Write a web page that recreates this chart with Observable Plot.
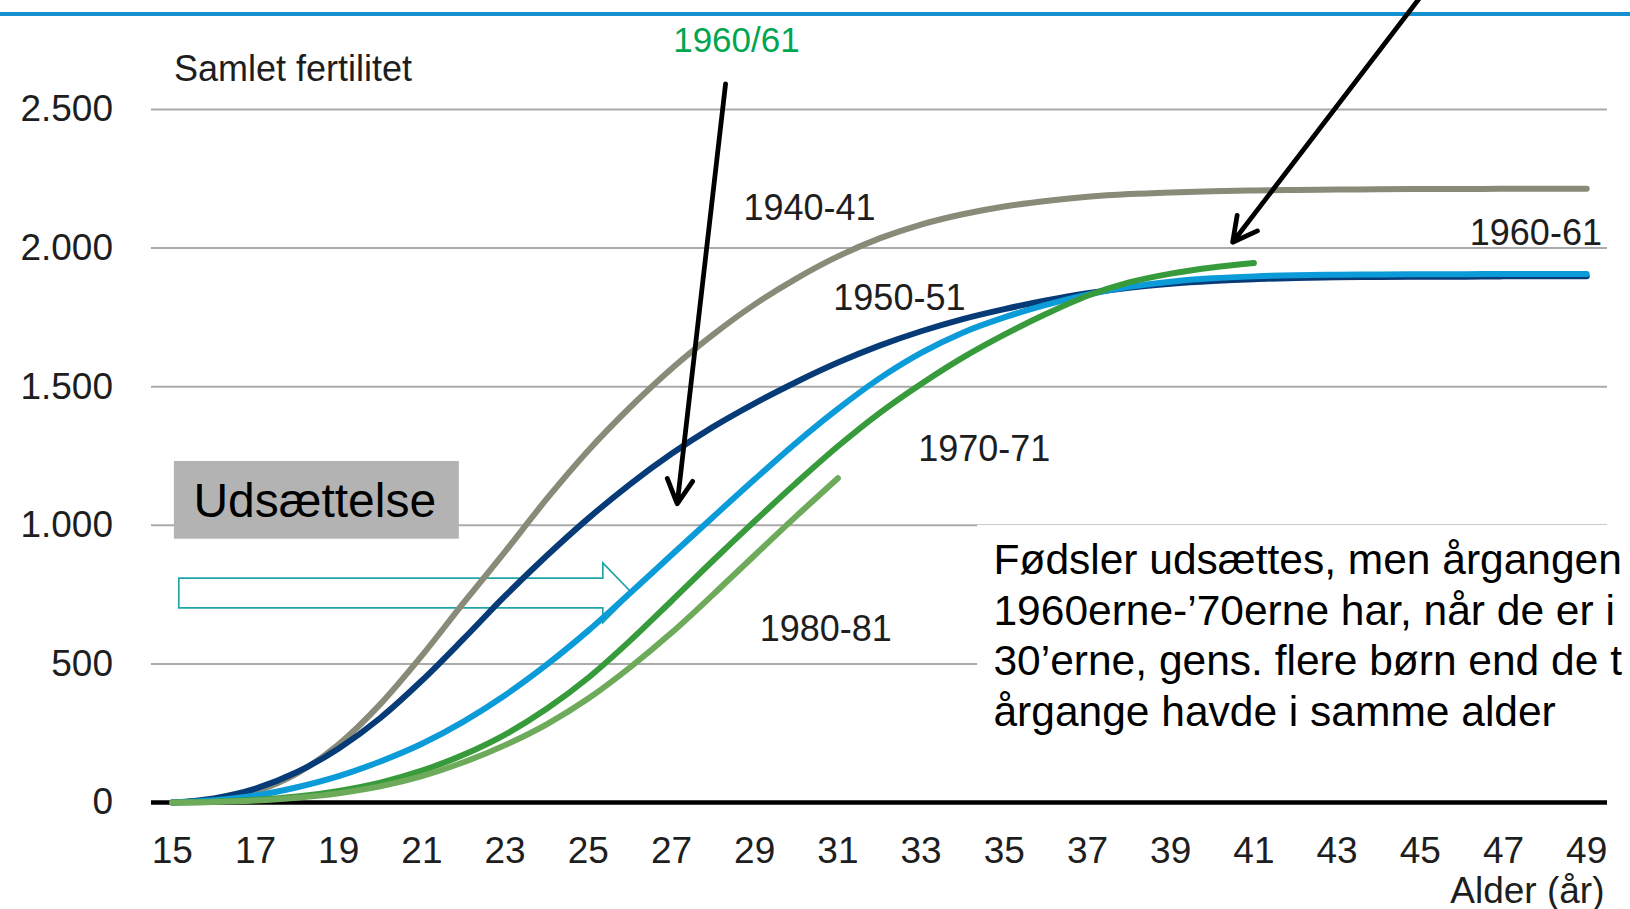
<!DOCTYPE html>
<html>
<head>
<meta charset="utf-8">
<script src="https://cdn.jsdelivr.net/npm/d3@7"></script>
<script src="https://cdn.jsdelivr.net/npm/@observablehq/plot@0.6"></script>
<style>
html, body { margin: 0; padding: 0; background: #ffffff; overflow: hidden; }
#wrap { position: relative; width: 1630px; height: 909px; }
#topline { position: absolute; left: 0; top: 12px; width: 1630px; height: 4px; background: #1591d1; z-index: 0; }
#chart { position: absolute; left: 0; top: 0; z-index: 1; }
</style>
</head>
<body>
<div id="wrap"><div id="topline"></div><div id="chart"></div></div>
<script>
// ---------- data ----------
const ages = [15,16,17,18,19,20,21,22,23,24,25,26,27,28,29,30,31,32,33,34,35,36,37,38,39,40,41,42,43,44,45,46,47,48,49];
const cohorts = ["1940-41", "1950-51", "1960-61", "1970-71", "1980-81"];
const cohortColors = ["#8a8a79", "#073b77", "#0b9bd8", "#389b3b", "#6dab5b"];

const v1940 = [0,10,40,105,210,355,530,720,905,1095,1270,1425,1565,1688,1797,1890,1970,2035,2085,2122,2150,2170,2185,2195,2201,2205,2208,2210,2211,2212,2213,2213,2214,2214,2214];
const v1950 = [0,15,50,110,195,305,440,590,745,890,1025,1148,1258,1355,1440,1517,1587,1648,1700,1744,1780,1811,1837,1857,1871,1881,1888,1892,1895,1896,1897,1897,1898,1898,1898];
const v1960 = [0,8,25,55,95,148,212,292,387,497,620,755,893,1030,1166,1298,1420,1530,1622,1695,1750,1795,1832,1860,1879,1891,1898,1902,1904,1905,1906,1906,1907,1907,1907];
const v1970 = [0,3,10,22,42,72,115,172,245,338,450,583,727,873,1015,1153,1285,1405,1510,1605,1688,1762,1828,1876,1908,1930,1946];
const v1980 = [0,2,7,17,33,58,95,145,207,282,375,487,612,750,892,1033,1170];
const seriesValues = [v1940, v1950, v1960, v1970, v1980];

const xTicks = [15,17,19,21,23,25,27,29,31,33,35,37,39,41,43,45,47,49];
const yTicks = [0, 500, 1000, 1500, 2000, 2500];
const yTickLabels = ["0", "500", "1.000", "1.500", "2.000", "2.500"];

// series labels (age, value at text baseline)
const labelText = ["1940-41", "1950-51", "1960-61", "1970-71", "1980-81"];
const labelAge = [28.73, 30.89, 46.19, 32.93, 29.12];
const labelValue = [2099.6, 1774.9, 2009.4, 1231.3, 584.4];

// green note above the chart
const greenNote = ["1960/61"];
const greenNoteAge = [27.04];
const greenNoteValue = [2706.8];

// black pointer arrows
const arrowAge1 = [28.30, 45.12];
const arrowVal1 = [2592.7, 2929];
const arrowAge2 = [27.137, 40.49];
const arrowVal2 = [1077.6, 2021.3];

// "Udsættelse" box
const udsText = ["Udsættelse"];
const udsBoxAge = [15.05, 21.90];
const udsBoxVal = [949.9, 1230.2];
const udsTextAge = [15.507];
const udsTextVal = [1029.2];

// hollow block arrow outline (age, value)
const blockAge = [15.156, 25.349, 25.349, 26.055, 25.349, 25.349, 15.156, 15.156];
const blockVal = [809.2, 809.2, 864.7, 755.0, 648.3, 702.4, 702.4, 809.2];

// annotation text box (text runs to the right edge, as in the source)
const noteLines = [
  "Fødsler udsættes, men årgangen",
  "1960erne-\u201970erne har, når de er i",
  "30\u2019erne, gens. flere børn end de t",
  "årgange havde i samme alder"
];
const noteBoxAge = [34.36, 50.3];
const noteBoxVal = [150, 1000];
const noteAge = [34.74];
const noteVal = [276];

// ---------- build tables ----------
const rows = [];
cohorts.forEach((c, k) => {
  seriesValues[k].forEach((v, i) => rows.push({cohort: c, age: ages[i], value: v}));
});
const labels = labelText.map((t, i) => ({t, age: labelAge[i], value: labelValue[i]}));
const arrows = arrowAge1.map((a, i) => ({a1: a, v1: arrowVal1[i], a2: arrowAge2[i], v2: arrowVal2[i]}));
const block = blockAge.map((a, i) => ({a, v: blockVal[i]}));

const FONT = "'Liberation Sans', Arial, Helvetica, sans-serif";

const chart = Plot.plot({
  width: 1630,
  height: 909,
  marginLeft: 151,
  marginRight: 23,
  marginTop: 109,
  marginBottom: 107,
  x: {domain: [14.5, 49.5], label: null},
  y: {domain: [0, 2500], label: null},
  color: {domain: cohorts, range: cohortColors},
  style: {fontFamily: FONT, fontSize: "37px", color: "#1e1e1e", background: "transparent", overflow: "hidden"},
  marks: [
    Plot.ruleY(yTicks.filter(d => d > 0), {stroke: "#aaaaaa", strokeWidth: 2}),
    Plot.rect([0], {x1: () => noteBoxAge[0], x2: () => noteBoxAge[1], y1: () => noteBoxVal[0], y2: () => noteBoxVal[1], fill: "white"}),
    Plot.ruleY([0], {stroke: "#000000", strokeWidth: 4.5}),
    Plot.axisY({ticks: yTicks, tickSize: 0, tickPadding: 38.5, fontSize: 37, label: null,
      tickFormat: d => yTickLabels[yTicks.indexOf(d)]}),
    Plot.axisX({ticks: xTicks, tickSize: 0, tickPadding: 34, fontSize: 37, label: null,
      tickFormat: d => String(d)}),
    Plot.text(["Samlet fertilitet"], {frameAnchor: "top-left", dx: 22.5, dy: -29, lineAnchor: "bottom", textAnchor: "start", fontSize: 36, fill: "#1e1e1e"}),
    Plot.text(["Alder (år)"], {frameAnchor: "bottom-right", dx: -3, dy: 100, lineAnchor: "bottom", textAnchor: "end", fontSize: 37, fill: "#1e1e1e"}),
    Plot.rect([0], {x1: () => udsBoxAge[0], x2: () => udsBoxAge[1], y1: () => udsBoxVal[0], y2: () => udsBoxVal[1], fill: "#b3b3b3"}),
    Plot.text(udsText, {x: () => udsTextAge[0], y: () => udsTextVal[0], textAnchor: "start", lineAnchor: "bottom", fontSize: 48, fill: "#000000"}),
    Plot.line(block, {x: "a", y: "v", stroke: "#22a4a6", strokeWidth: 1.7, fill: "white", strokeLinejoin: "miter", strokeMiterlimit: 10}),
    Plot.line(rows, {x: "age", y: "value", z: "cohort", stroke: "cohort", strokeWidth: 6, curve: "monotone-x"}),
    Plot.text(labels, {x: "age", y: "value", text: "t", textAnchor: "start", lineAnchor: "bottom", fontSize: 36, fill: "#1e1e1e"}),
    Plot.text(greenNote, {x: () => greenNoteAge[0], y: () => greenNoteValue[0], textAnchor: "start", lineAnchor: "bottom", fontSize: 35, fill: "#00a651"}),
    Plot.text([noteLines.join("\n")], {x: () => noteAge[0], y: () => noteVal[0], textAnchor: "start", lineAnchor: "bottom", lineHeight: 1.19, fontSize: 42.5, fill: "#000000"}),
    Plot.arrow(arrows, {x1: "a1", y1: "v1", x2: "a2", y2: "v2", stroke: "#000000", strokeWidth: 4.8, headLength: 8.5, headAngle: 56})
  ]
});
document.getElementById("chart").appendChild(chart);
</script>
</body>
</html>
